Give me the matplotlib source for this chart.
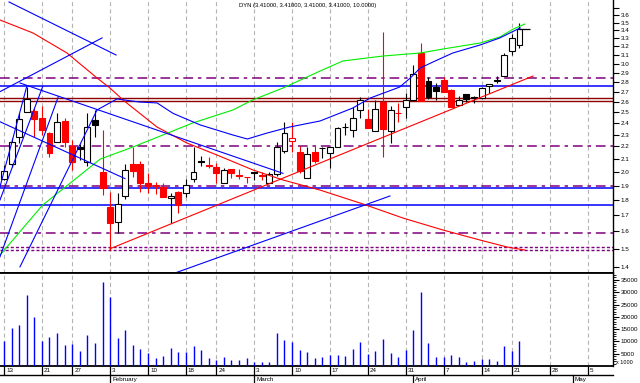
import numpy as np
import matplotlib
matplotlib.use('Agg')
import matplotlib.pyplot as plt
from matplotlib.patches import Rectangle
from matplotlib.lines import Line2D
from matplotlib.transforms import blended_transform_factory, offset_copy
from matplotlib.ticker import FixedLocator, NullLocator, FixedFormatter

plt.rcParams['font.family'] = ['Liberation Sans', 'DejaVu Sans']
plt.rcParams['lines.scale_dashes'] = False

# ---------------- data (trading-day index 0 = 13 Jan 2003) ----------------
title_text = 'DYN (3.41000, 3.41000, 3.41000, 3.41000, 10.0000)'

open_ = [1.949, 2.057, 2.281, 2.505, 2.512, 2.450, 2.316, 2.234, 2.419, 2.203,
         2.197, 2.077, 2.429, 2.001, 1.755, 1.659, 1.829, 2.060, 2.060, 1.920,
         1.904, 1.887, 1.811, 1.856, 1.845, 1.945, 2.085, 2.050, 2.039, 1.920,
         2.019, 1.976, 1.964, 2.001, 1.976, 1.920, 1.981, 2.165, 2.245, 2.157,
         1.952, 2.157, 2.190, 2.144, 2.197, 2.366, 2.339, 2.522, 2.438, 2.331,
         2.601, 2.331, 2.495, 2.547, 2.618, 3.119, 2.811, 2.745, 2.822, 2.718,
         2.569, 2.674, 2.645, 2.640, 2.759, 2.818, 2.867, 3.146, 3.214]
high = [2.052, 2.270, 2.490, 2.752, 2.540, 2.560, 2.325, 2.496, 2.444, 2.253,
        2.220, 2.490, 2.522, 2.339, 1.856, 1.845, 2.057, 2.197, 2.085, 1.989,
        1.927, 1.920, 1.845, 1.860, 1.945, 2.197, 2.122, 2.117, 2.065, 2.027,
        2.019, 2.019, 1.964, 2.001, 2.001, 2.001, 2.239, 2.413, 2.413, 2.206,
        2.197, 2.206, 2.197, 2.197, 2.370, 2.399, 2.553, 2.650, 2.528, 2.618,
        3.382, 2.560, 2.586, 2.684, 2.985, 3.238, 2.857, 2.787, 2.850, 2.725,
        2.657, 2.680, 2.657, 2.745, 2.780, 2.864, 3.119, 3.349, 3.490]
low = [1.940, 2.036, 2.226, 2.500, 2.281, 2.296, 2.117, 2.234, 2.197, 2.014,
       2.091, 2.044, 2.276, 1.834, 1.492, 1.592, 1.804, 1.964, 1.856, 1.849,
       1.840, 1.818, 1.653, 1.716, 1.818, 1.927, 2.044, 2.027, 1.920, 1.920,
       1.952, 1.945, 1.920, 1.940, 1.940, 1.920, 1.969, 2.144, 2.157, 1.995,
       1.952, 2.065, 2.106, 2.027, 2.197, 2.296, 2.276, 2.444, 2.360, 2.331,
       2.112, 2.231, 2.413, 2.444, 2.610, 2.608, 2.628, 2.618, 2.701, 2.553,
       2.569, 2.601, 2.590, 2.640, 2.690, 2.793, 2.867, 3.099, 3.178]
close = [2.008, 2.234, 2.435, 2.625, 2.438, 2.339, 2.149, 2.408, 2.234, 2.077,
         2.181, 2.366, 2.386, 1.885, 1.653, 1.771, 2.014, 2.007, 1.920, 1.897,
         1.895, 1.822, 1.827, 1.766, 1.904, 2.001, 2.072, 2.048, 1.989, 2.014,
         1.989, 1.969, 1.962, 1.993, 1.969, 1.984, 2.197, 2.311, 2.273, 2.008,
         2.138, 2.085, 2.184, 2.197, 2.360, 2.362, 2.444, 2.618, 2.360, 2.528,
         2.346, 2.522, 2.490, 2.618, 2.886, 2.608, 2.650, 2.711, 2.701, 2.553,
         2.618, 2.628, 2.640, 2.735, 2.776, 2.814, 3.099, 3.299, 3.410]
volume = [9980, 15530, 16750, 28900, 20000, 9980, 11880, 13500, 8640, 9040,
          5920, 12700, 9450, 34180, 28100, 11480, 14720, 8640, 7020, 5390,
          3370, 4180, 7420, 5800, 5800, 8230, 6330, 3370, 2550, 3770,
          2270, 2550, 3370, 1740, 1740, 1740, 13500, 10660, 9850, 6610,
          5800, 3370, 3770, 4580, 4580, 4180, 7020, 9850, 4990, 6200,
          11070, 5390, 3770, 6610, 14720, 30130, 9450, 3770, 3770, 4580,
          3770, 1740, 2150, 2960, 2960, 2150, 8230, 6200, 10260]

# indicator curves (day, price)
green_days = [-0.53, 5.1, 12.7, 17.0, 19.3, 24.9, 30.2, 32.8, 36.8, 41.7, 44.7, 50.0, 54.9, 57.9, 62.8, 65.4, 67.2, 68.7]
green_vals = [1.464, 1.766, 2.098, 2.195, 2.253, 2.402, 2.522, 2.618, 2.738, 2.918, 3.030, 3.087, 3.122, 3.169, 3.241, 3.315, 3.416, 3.480]
bluema_days = [12.27, 14.9, 17.9, 20.2, 22.3, 25.9, 30.2, 32.1, 34.7, 37.7, 41.7, 46.0, 48.3, 52.2, 53.6, 54.9, 56.6, 59.2, 62.8, 65.4, 68.1]
bluema_vals = [2.522, 2.628, 2.598, 2.589, 2.490, 2.384, 2.296, 2.262, 2.313, 2.366, 2.420, 2.540, 2.637, 2.748, 2.843, 2.951, 3.019, 3.122, 3.217, 3.303, 3.430]
redcurve_days = [-0.53, 3.83, 8.31, 12.27, 13.98, 15.7, 20.18, 24.14, 28.1, 32.85, 36.8, 41.69, 47.36, 52.64, 57.92, 62.8, 66.36, 68.7]
redcurve_vals = [3.533, 3.365, 3.122, 2.843, 2.738, 2.618, 2.366, 2.228, 2.130, 2.014, 1.940, 1.868, 1.773, 1.682, 1.608, 1.549, 1.509, 1.492]

# trend lines: (day0, price0, day1, price1)
blue_trends = [(0.66, 3.780, 14.78, 3.099),
               (-0.53, 2.701, 12.93, 3.303),
               (2.11, 2.790, 36.8, 1.989),
               (-0.53, 2.413, 15.96, 1.950),
               (-0.53, 1.891, 2.99, 2.752),
               (-0.53, 1.800, 5.1, 2.752),
               (-0.53, 1.455, 7.16, 2.650),
               (2.11, 1.401, 12.27, 2.522),
               (22.56, 1.369, 50.92, 1.827)]
red_trends = [(13.98, 1.499, 69.79, 2.864)]

# horizontal levels
purple_dashdot = [2.84, 2.20, 1.90, 1.59]
purple_dotted = [1.51, 1.49]
blue_levels = [2.76, 1.88, 1.765]
maroon_levels = [2.633, 2.605]

# axes ticks / labels
price_ticks = [round(1.4 + 0.1 * k, 1) for k in range(24)]
price_labels = ['%.1f' % v if v <= 3.6 else '' for v in price_ticks]
vol_ticks = [5000, 10000, 15000, 20000, 25000, 30000, 35000]
week_days = [0, 5, 9, 14, 19, 24, 28, 33, 38, 43, 48, 53, 58, 63, 67, 72, 77]
week_labels = ['13', '21', '27', '3', '10', '18', '24', '3', '10', '17', '24', '31', '7', '14', '21', '28', '5']
month_days = [14, 33, 54, 75]
month_labels = ['February', 'March', 'April', 'May']

# ---------------- figure ----------------
W, H = 640, 383
fig = plt.figure(figsize=(W / 100, H / 100), dpi=100)
fig.patch.set_facecolor('white')
ax = fig.add_axes([0, 1 - 273 / H, 613 / W, 273 / H])
axv = fig.add_axes([0, 1 - 366 / H, 613 / W, 93 / H])

xlim = (-0.528, 80.34)
for a in (ax, axv):
    a.set_xlim(*xlim)
    a.set_facecolor('white')
    a.spines['left'].set_visible(False)
    a.spines['right'].set_linewidth(1.0)
    for d in week_days:
        a.axvline(d, color='#b4b4b4', lw=0.8, ls=(0, (3, 2.2)), zorder=1)

ax.spines['top'].set_visible(False)
ax.spines['bottom'].set_linewidth(1.3)
axv.spines['top'].set_linewidth(1.3)
axv.spines['bottom'].set_linewidth(1.3)

# price axis
ax.set_yscale('log')
ax.set_ylim(1.369, 3.808)
ax.yaxis.set_major_locator(FixedLocator(price_ticks))
ax.yaxis.set_major_formatter(FixedFormatter(price_labels))
ax.yaxis.set_minor_locator(NullLocator())
ax.yaxis.tick_right()
ax.tick_params(axis='y', which='major', direction='out', length=4, width=0.8, pad=1.5, labelsize=4.5)
ax.set_xticks([])

# horizontal levels
for v in purple_dashdot:
    ax.axhline(v, color='#800080', lw=1.1, ls=(0, (7, 3.5, 2.5, 3.5)), zorder=2)
for v in purple_dotted:
    ax.axhline(v, color='#800080', lw=1.0, ls=(0, (2.2, 1.5)), zorder=2)
for v in blue_levels:
    ax.axhline(v, color='#0000ff', lw=1.1, zorder=2)
for v in maroon_levels:
    ax.axhline(v, color='#900000', lw=1.0, zorder=2)

# candles
n = len(close)
x = np.arange(n)
for i in range(n):
    o, h, l, c = open_[i], high[i], low[i], close[i]
    col = 'black' if (i == 0 or c >= close[i - 1]) else '#ff0000'
    face = 'white' if c > o else col
    ax.vlines(x[i], l, h, color=col, lw=0.8, zorder=3)
    ax.add_patch(Rectangle((x[i] - 0.39, min(o, c)), 0.78, max(abs(c - o), 1e-4),
                           facecolor=face, edgecolor=col, lw=0.8, zorder=4))
ax.hlines(close[-1], x[-1], x[-1] + 1.4, color='black', lw=0.9, zorder=5)

# indicator curves
ax.plot(redcurve_days, redcurve_vals, color='#ff0000', lw=0.8, zorder=5)
ax.plot(green_days, green_vals, color='#00ee00', lw=0.8, zorder=5)
ax.plot(bluema_days, bluema_vals, color='#0000ff', lw=0.8, zorder=5)

for d0, p0, d1, p1 in blue_trends:
    ax.plot([d0, d1], [p0, p1], color='#0000ff', lw=0.8, zorder=5)
for d0, p0, d1, p1 in red_trends:
    ax.plot([d0, d1], [p0, p1], color='#ff0000', lw=0.8, zorder=5)

# volume
axv.vlines(x, 0, volume, color='#0000ff', lw=1.0, zorder=3)
axv.set_ylim(0, 37830)
axv.yaxis.set_major_locator(FixedLocator(vol_ticks))
axv.yaxis.set_major_formatter(FixedFormatter([str(v) for v in vol_ticks]))
axv.yaxis.set_minor_locator(FixedLocator([v for v in range(1000, 38000, 1000) if v % 5000]))
axv.yaxis.tick_right()
axv.tick_params(axis='y', which='major', direction='out', length=4, width=0.8, pad=1.5, labelsize=4.5)
axv.tick_params(axis='y', which='minor', direction='out', length=2, width=0.6)
axv.set_xticks(week_days)
axv.tick_params(axis='x', direction='out', length=6.5, width=0.9, labelbottom=False)

# date labels
tr = blended_transform_factory(axv.transData, fig.transFigure)
tr_lab = offset_copy(tr, fig=fig, x=2, y=0, units='dots')
for d, lab in zip(week_days, week_labels):
    fig.text(d, 1 - 370.5 / H, lab, transform=tr_lab, fontsize=4.5, ha='left', va='center')
fig.add_artist(Line2D([0, 613 / W], [1 - 375 / H, 1 - 375 / H], transform=fig.transFigure,
                      color='black', lw=1.0))
for d, lab in zip(month_days, month_labels):
    fig.add_artist(Line2D([d, d], [1 - 375 / H, 0], transform=tr, color='black', lw=0.9))
    fig.text(d, 1 - 379.5 / H, lab, transform=tr_lab, fontsize=4.5, ha='left', va='center')

fig.text(616 / W, 1 - 362 / H, 'x 1000', fontsize=4, ha='left', va='center')
fig.text(239 / W, 1 - 6 / H, title_text, fontsize=4.2, ha='left', va='center')

fig.savefig('out.png', dpi=100, facecolor='white')
